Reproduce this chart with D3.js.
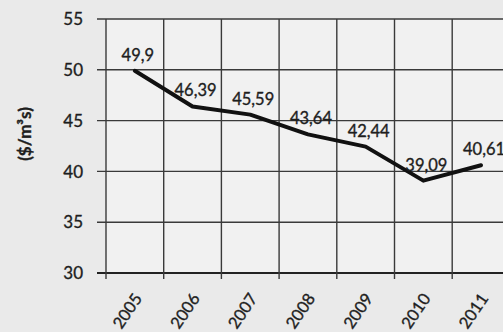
<!DOCTYPE html>
<html>
<head>
<meta charset="utf-8">
<script src="https://cdn.jsdelivr.net/npm/d3@7"></script>
<style>
  html, body { margin: 0; padding: 0; background: #ebebeb; }
  svg { display: block; }
  text { font-family: Lato, "Open Sans", sans-serif; fill: #1e1e1e; stroke: #1e1e1e; stroke-width: 0.35px; }
</style>
</head>
<body>
<svg id="chart" width="503" height="332"></svg>
<script>
const years = ["2005", "2006", "2007", "2008", "2009", "2010", "2011"];
const values = [49.9, 46.39, 45.59, 43.64, 42.44, 39.09, 40.61];
const valueLabels = ["49,9", "46,39", "45,59", "43,64", "42,44", "39,09", "40,61"];
const yTicks = [30, 35, 40, 45, 50, 55];
const yTitle = "($/m³s)";

(function () {
const svg = d3.select("#chart");
const W = 503, H = 332;
const mLeft = 106, mTop = 19, mBottom = 273;
const step = 57.7;

svg.append("rect").attr("width", W).attr("height", H).attr("fill", "#eaeaea");

const x = d3.scaleBand().domain(years).range([mLeft, mLeft + step * years.length]).padding(0);
const y = d3.scaleLinear().domain([30, 55]).range([mBottom, mTop]);

// plot area background
svg.append("rect")
  .attr("x", mLeft).attr("y", mTop)
  .attr("width", W - mLeft).attr("height", mBottom - mTop)
  .attr("fill", "#f1f1f1");

// horizontal gridlines (with tick extensions to the left)
svg.append("g").selectAll("line").data(yTicks).join("line")
  .attr("x1", mLeft - 9).attr("x2", W)
  .attr("y1", d => y(d)).attr("y2", d => y(d))
  .attr("stroke", d => d === 30 ? "#222" : "#3a3a3a")
  .attr("stroke-width", d => d === 30 ? 2.2 : 1.4);

// vertical gridlines at band boundaries
svg.append("g").selectAll("line").data(years).join("line")
  .attr("x1", d => x(d)).attr("x2", d => x(d))
  .attr("y1", mTop).attr("y2", mBottom + 6)
  .attr("stroke", "#3a3a3a").attr("stroke-width", 1.4);

// y tick labels
svg.append("g").selectAll("text").data(yTicks).join("text")
  .attr("x", 83).attr("y", d => y(d))
  .attr("dy", "0.36em")
  .attr("text-anchor", "end")
  .attr("font-size", 17)
  .text(d => d);

// x tick labels, rotated
svg.append("g").selectAll("text").data(years).join("text")
  .attr("transform", d => `translate(${x(d) + x.bandwidth() / 2 + 3},${mBottom + 22}) rotate(-56)`)
  .attr("text-anchor", "end")
  .attr("dominant-baseline", "central")
  .attr("font-size", 16.5)
  .text(d => d);

// y axis title
svg.append("text")
  .attr("transform", `translate(31,134) rotate(-90)`)
  .attr("text-anchor", "middle")
  .attr("font-size", 17)
  .attr("font-weight", "bold")
  .text(yTitle);

// line
const pts = years.map((yr, i) => [x(yr) + x.bandwidth() / 2, y(values[i])]);
svg.append("path")
  .attr("d", d3.line()(pts))
  .attr("fill", "none")
  .attr("stroke", "#111")
  .attr("stroke-width", 4)
  .attr("stroke-linejoin", "round")
  .attr("stroke-linecap", "round");

// data labels
svg.append("g").selectAll("text").data(years).join("text")
  .attr("x", (d) => x(d) + x.bandwidth() / 2 + 3)
  .attr("y", (d, i) => y(values[i]) - 10)
  .attr("text-anchor", "middle")
  .attr("font-size", 16.5)
  .text((d, i) => valueLabels[i]);
})();
</script>
</body>
</html>
